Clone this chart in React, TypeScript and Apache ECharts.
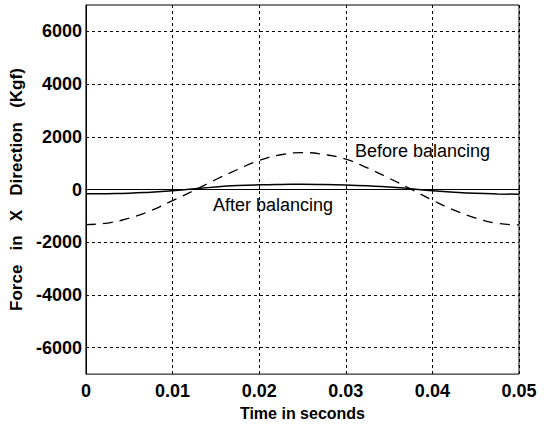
import React, { useEffect, useRef } from "react";
import * as echarts from "echarts";

const timeValues = [0, 0.0025, 0.005, 0.0075, 0.01, 0.0125, 0.015, 0.0175, 0.02, 0.0225, 0.025, 0.0275, 0.03, 0.0325, 0.035, 0.0375, 0.04, 0.0425, 0.045, 0.0475, 0.05];
const beforeBalancing = [-1330, -1270, -1080, -800, -420, -30, 380, 760, 1100, 1320, 1400, 1330, 1150, 820, 430, 20, -400, -780, -1080, -1280, -1340];
const afterBalancing = [-160, -155, -140, -100, -50, 30, 100, 150, 180, 195, 200, 190, 170, 140, 100, 30, -50, -100, -140, -165, -180];
const yGridValues = [-6000, -4000, -2000, 0, 2000, 4000, 6000];
const xTickLabels = ["0", "0.01", "0.02", "0.03", "0.04", "0.05"];

export default function App() {
  const ref = useRef<HTMLDivElement>(null);
  useEffect(() => {
    if (!ref.current) return;
    const chart = echarts.init(ref.current, null, { renderer: "svg" });
    const font = "Arial, 'Liberation Sans', sans-serif";
    chart.setOption({
      animation: false,
      backgroundColor: "#ffffff",
      grid: { left: 83, right: 31, top: 5, bottom: 51, show: true, borderColor: "#000", borderWidth: 1, backgroundColor: "transparent" },
      xAxis: {
        type: "value",
        min: 0,
        max: 0.05,
        interval: 0.01,
        name: "Time in seconds",
        nameLocation: "middle",
        nameGap: 29,
        nameTextStyle: { fontFamily: font, fontSize: 16, fontWeight: "bold", color: "#000" },
        axisLine: { show: true, lineStyle: { color: "#000" } },
        axisTick: { show: true, inside: true, length: 4, lineStyle: { color: "#000" } },
        axisLabel: {
          color: "#000",
          fontFamily: font,
          fontSize: 18,
          fontWeight: "bold",
          margin: 8,
          formatter: (v: number) => xTickLabels[Math.round(v / 0.01)] ?? "",
        },
        splitLine: { show: true, lineStyle: { color: "#000", type: [3, 3], width: 1 } },
      },
      yAxis: {
        type: "value",
        min: -7000,
        max: 7000,
        interval: 1000,
        name: "Force   in   X   Direction   (Kgf)",
        nameLocation: "middle",
        nameGap: 53,
        nameTextStyle: { fontFamily: font, fontSize: 17, fontWeight: "bold", color: "#000" },
        axisLine: { show: true, lineStyle: { color: "#000" } },
        axisTick: { show: false },
        axisLabel: {
          color: "#000",
          fontFamily: font,
          fontSize: 18,
          fontWeight: "bold",
          margin: 4,
          formatter: (v: number) => (yGridValues.includes(v) ? String(v) : ""),
        },
        splitLine: { show: false },
      },
      series: [
        {
          type: "line",
          data: timeValues.map((t, i) => [t, beforeBalancing[i]]),
          smooth: true,
          symbol: "none",
          lineStyle: { color: "#000", width: 1.3, type: [10, 7] },
          markLine: {
            silent: true,
            symbol: "none",
            label: { show: false },
            lineStyle: { color: "#000", type: [3, 3], width: 1 },
            data: yGridValues.map((v) => ({ yAxis: v })),
          },
        },
        {
          type: "line",
          data: timeValues.map((t, i) => [t, afterBalancing[i]]),
          smooth: true,
          symbol: "none",
          lineStyle: { color: "#000", width: 1.5 },
        },
      ],
      graphic: [
        { type: "text", left: 355, top: 142, style: { text: "Before balancing", fontFamily: font, fontSize: 18, fill: "#000" } },
        { type: "text", left: 213, top: 196, style: { text: "After balancing", fontFamily: font, fontSize: 18, fill: "#000" } },
      ],
    });
    return () => chart.dispose();
  }, []);
  return <div ref={ref} style={{ position: "fixed", left: 0, top: 0, width: 550, height: 426 }} />;
}
